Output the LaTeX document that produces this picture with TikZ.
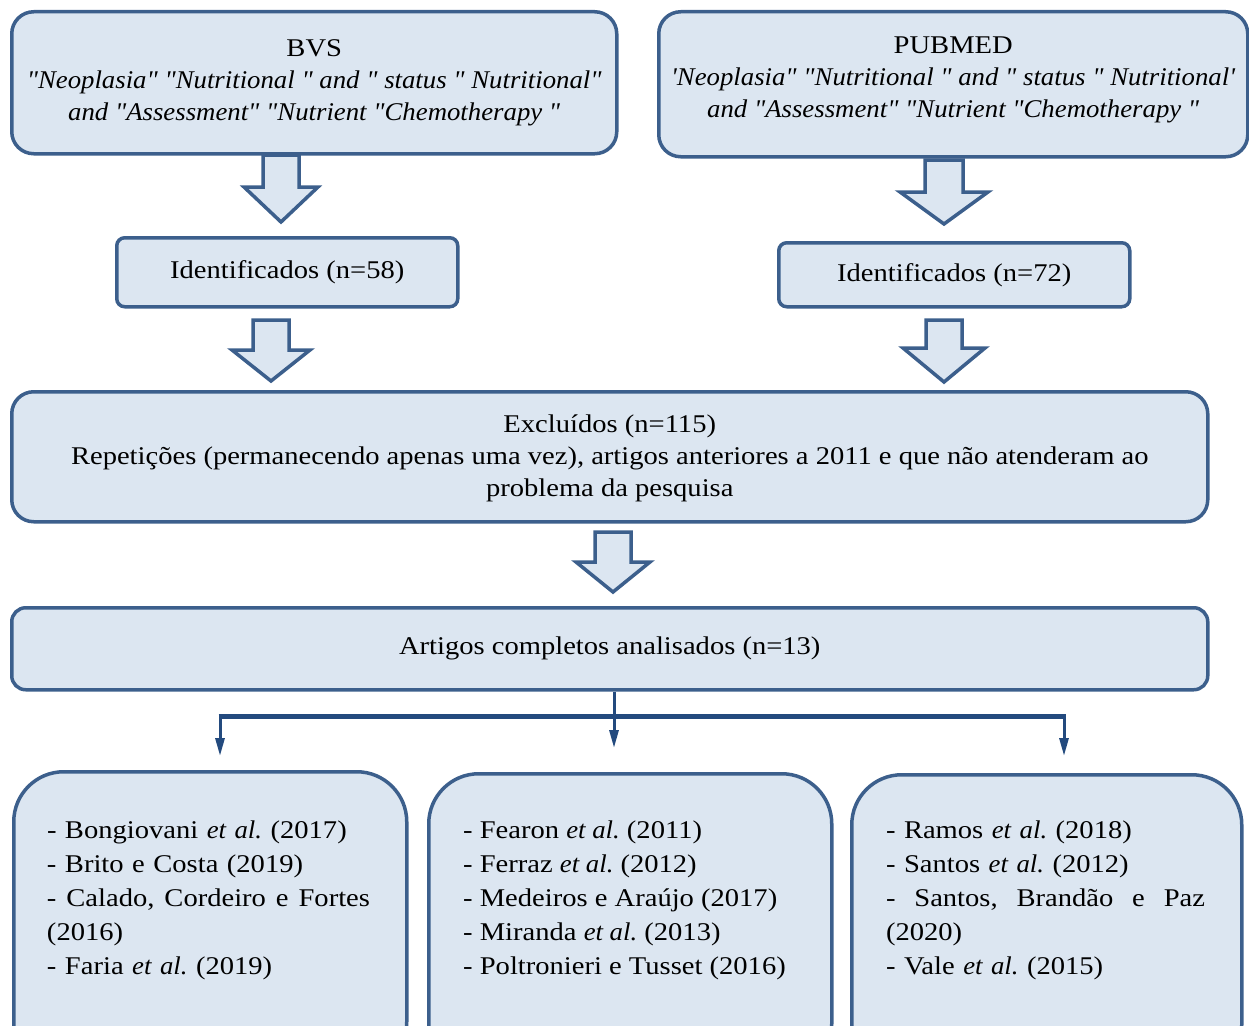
\documentclass[tikz,border=0pt]{standalone}
\usepackage{fontspec}
\setmainfont{Liberation Serif}[Ligatures=TeXOff, UprightFeatures={FakeStretch=1.12}, ItalicFeatures={FakeStretch=1.05}]
\usetikzlibrary{arrows.meta}
\definecolor{bord}{HTML}{3C5F8C}
\definecolor{fillc}{HTML}{DCE6F1}
\definecolor{navy}{HTML}{234A7E}
\newcommand\blockarr[6]{%
  \draw[barr] (#1-#5,#2) -- (#1+#5,#2) -- (#1+#5,#3) -- (#1+#6,#3) -- (#1,#4) -- (#1-#6,#3) -- (#1-#5,#3) -- cycle;}
\begin{document}
\frenchspacing
\begin{tikzpicture}[x=1pt,y=-1pt,
  box/.style={draw=bord, fill=fillc, line width=3.5pt, anchor=north west, inner sep=0pt},
  txt/.style={font=\fontsize{25.5}{32}\selectfont, align=center, inner sep=0pt},
  lst/.style={font=\fontsize{25.5}{34}\selectfont, align=left, inner sep=0pt},
  barr/.style={draw=bord, fill=fillc, line width=3.5pt, line join=miter},
  conn/.style={draw=navy, line width=3pt},
  tipa/.style={-{Triangle[width=9pt,length=18pt]}}]
\useasboundingbox (0,0) rectangle (1249,1025);
\clip (0,0) rectangle (1249,1025);

% top boxes
\node[box, rounded corners=22pt, minimum width=605, minimum height=142] (bvs) at (10,10) {};
\node[txt] (bvst) at (bvs.center) {BVS\\\textit{"Neoplasia" "Nutritional " and " status " Nutritional"}\\\textit{and "Assessment" "Nutrient "Chemotherapy "}};

\node[box, rounded corners=22pt, minimum width=589, minimum height=145] (pub) at (657,10) {};
\node[txt] (pubt) at ([yshift=4pt]pub.center) {PUBMED\\\textit{'Neoplasia" "Nutritional " and " status " Nutritional'}\\\textit{and "Assessment" "Nutrient "Chemotherapy "}};

% identified
\node[box, rounded corners=8pt, minimum width=341, minimum height=69] (id1) at (115,236) {};
\node[txt] (id1t) at (id1.center) {Identificados (n=58)};
\node[box, rounded corners=8pt, minimum width=351, minimum height=64] (id2) at (777,241) {};
\node[txt] (id2t) at (id2.center) {Identificados (n=72)};

% excluded
\node[box, rounded corners=22pt, minimum width=1196, minimum height=130] (exc) at (10,390) {};
\node[txt] (exct) at ([yshift=-1.5pt]exc.center) {Excluídos (n=115)\\Repetições (permanecendo apenas uma vez), artigos anteriores a 2011 e que não atenderam ao\\problema da pesquisa};

% articles
\node[box, rounded corners=14pt, minimum width=1196, minimum height=82] (art) at (10,606) {};
\node[txt] (artt) at (art.center) {Artigos completos analisados (n=13)};

% bottom boxes
\node[box, rounded corners=50pt, minimum width=393, minimum height=300] (b1) at (12,770) {};
\node[box, rounded corners=50pt, minimum width=403, minimum height=300] (b2) at (427,772) {};
\node[box, rounded corners=50pt, minimum width=390, minimum height=300] (b3) at (850,773) {};

\node[lst, text width=323pt] (b1t) at (208.5,900) {- Bongiovani \textit{et al.} (2017)\\- Brito e Costa (2019)\\\makebox[323pt][l]{-\hfill Calado,\hfill Cordeiro\hfill e\hfill Fortes}\\(2016)\\- Faria \textit{et al.} (2019)};
\node[lst, anchor=west] (b2t) at (463,900) {- Fearon \textit{et al.} (2011)\\- Ferraz \textit{et al.} (2012)\\- Medeiros e Araújo (2017)\\- Miranda \textit{et al.} (2013)\\- Poltronieri e Tusset (2016)};
\node[lst, text width=319pt] (b3t) at (1045.5,900) {- Ramos \textit{et al.} (2018)\\- Santos \textit{et al.} (2012)\\\makebox[319pt][l]{-\hfill Santos,\hfill Brandão\hfill e\hfill Paz}\\(2020)\\- Vale \textit{et al.} (2015)};

% block arrows
\blockarr{281}{155}{187}{222}{18}{37}
\blockarr{271}{320}{350}{381}{18}{39}
\blockarr{944}{160}{192}{224}{19}{44}
\blockarr{944}{320}{348}{382}{18}{41}
\blockarr{613}{532}{562}{592}{18}{37}

% connectors
\coordinate (hub) at (614,716);
\coordinate (hl) at (220,716);
\coordinate (hr) at (1064,716);
\coordinate (lt) at (220,756);
\coordinate (mt) at (614,748);
\coordinate (rt) at (1064,756);
\draw[conn, tipa] (art.south -| hub) -- (mt);
\draw[conn, line width=5pt] ([xshift=-1.5pt]hl) -- ([xshift=1.5pt]hr);
\draw[conn, tipa] (hl) -- (lt);
\draw[conn, tipa] (hr) -- (rt);
\end{tikzpicture}
\end{document}
